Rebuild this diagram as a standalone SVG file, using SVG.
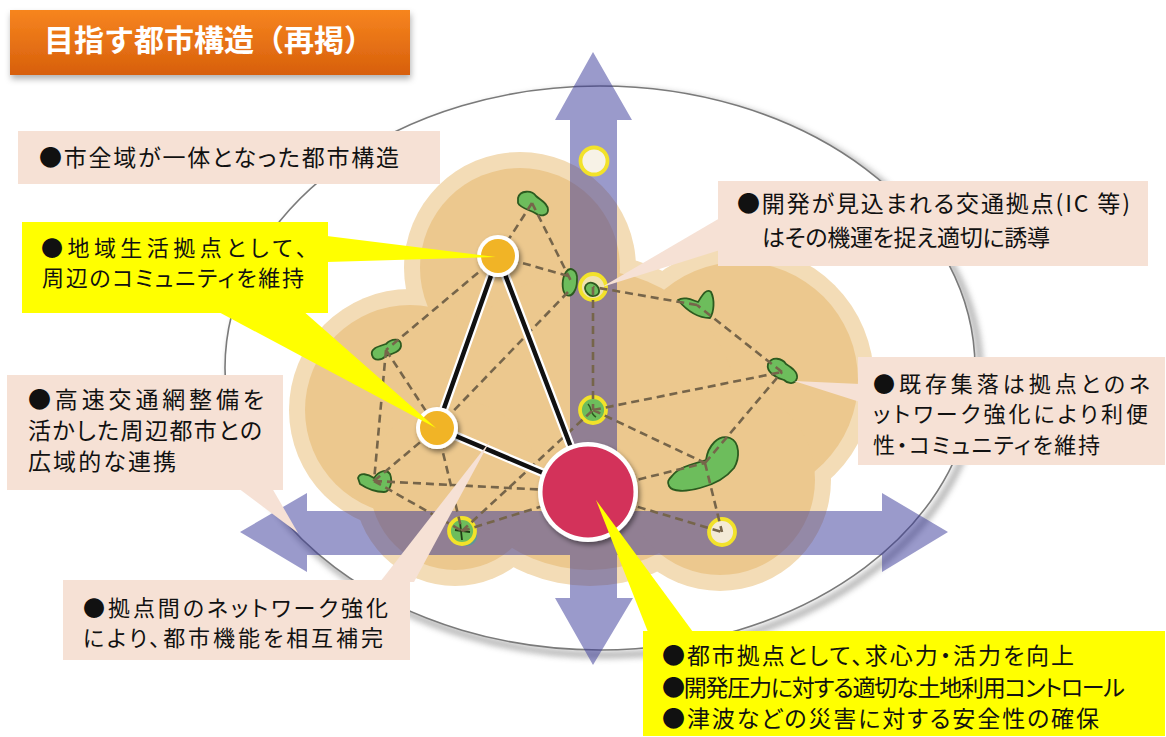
<svg xmlns="http://www.w3.org/2000/svg" width="1166" height="737" viewBox="0 0 1166 737">
  <defs>
    <linearGradient id="titleGrad" x1="0" y1="0" x2="0" y2="1">
      <stop offset="0" stop-color="#f7851f"/>
      <stop offset="1" stop-color="#d75f0b"/>
    </linearGradient>
    <filter id="nodeShadow" x="-30%" y="-30%" width="170%" height="170%">
      <feDropShadow dx="2" dy="3" stdDeviation="2.5" flood-color="#000" flood-opacity="0.45"/>
    </filter>
    <filter id="titleShadow" x="-10%" y="-20%" width="120%" height="160%">
      <feDropShadow dx="1" dy="4" stdDeviation="3" flood-color="#000" flood-opacity="0.3"/>
    </filter>
    <filter id="soft" x="-10%" y="-10%" width="120%" height="120%">
      <feGaussianBlur stdDeviation="3"/>
    </filter>
    <style>
      .lbl { font-family: "Noto Sans CJK JP", "Noto Sans CJK SC", sans-serif; font-size: 23px; fill: #111; font-feature-settings: "palt"; }
      .tight { font-size: 22px; }
      .pink { fill: #f6e1d5; }
      .yel { fill: #ffff00; }
      .dash { fill: none; stroke: #76654a; stroke-width: 2.6; stroke-dasharray: 8 5; }
      .blob { fill: #6dbd5c; stroke: #2c5a1f; stroke-width: 1.8; stroke-linejoin: round; }
      .ring { stroke: #f2e22a; stroke-width: 3.8; }
      .halo { fill: none; stroke: #fff; stroke-width: 9; stroke-linecap: round; }
      .link { fill: none; stroke: #111; stroke-width: 4.5; stroke-linecap: round; }
    </style>
  </defs>

  <rect width="1166" height="737" fill="#ffffff"/>

  <!-- city area outline -->
  <g id="city-outline">
    <ellipse cx="605" cy="373" rx="375" ry="282" fill="none" stroke="#666" stroke-width="6" opacity="0.55" filter="url(#soft)"/>
    <ellipse cx="600" cy="368" rx="375" ry="282" fill="#ffffff" stroke="#7a7a7a" stroke-width="1.6"/>
  </g>

  <!-- urbanised area (cloud) -->
  <g id="urban-area">
    <g fill="#f3dcb6">
      <circle cx="520" cy="268" r="116"/>
      <circle cx="410" cy="410" r="121"/>
      <circle cx="740" cy="380" r="134"/>
      <circle cx="590" cy="420" r="166"/>
      <circle cx="455" cy="485" r="101"/>
      <circle cx="720" cy="480" r="111"/>
    </g>
    <g fill="#ecc88e">
      <circle cx="520" cy="268" r="100"/>
      <circle cx="410" cy="410" r="105"/>
      <circle cx="740" cy="380" r="118"/>
      <circle cx="590" cy="420" r="150"/>
      <circle cx="455" cy="485" r="85"/>
      <circle cx="720" cy="480" r="95"/>
    </g>
  </g>

  <!-- transport axes -->
  <g id="axes">
    <path fill="#353597" fill-opacity="0.5" d="M240,532 L307,493 L307,511 L882,511 L882,493 L948,532 L882,572 L882,555 L307,555 L307,572 Z M593,52 L632,120 L617,120 L617,598 L633,598 L593,665 L555,598 L570,598 L570,120 L555,120 Z"/>
  </g>

  <!-- settlements -->
  <g id="settlements">
    <path class="blob" d="M518,198 C520,190 532,190 536,196 C540,200 548,203 548,210 C548,216 540,217 535,213 C530,210 520,208 518,203 Z"/>
    <path class="blob" d="M372,355 C370,348 380,346 386,344 C392,338 402,338 401,346 C400,352 392,354 386,356 C382,360 374,362 372,355 Z"/>
    <path class="blob" d="M358,478 C360,472 368,474 374,478 C378,472 386,468 390,474 C393,482 390,492 384,492 C376,492 366,488 360,484 Z"/>
    <path class="blob" d="M566,272 C570,266 578,270 577,280 C577,290 572,298 566,295 C561,290 562,278 566,272 Z"/>
    <path class="blob" d="M678,300 C684,296 692,300 698,302 C702,296 706,288 711,292 C715,300 714,312 710,318 C700,318 688,312 678,300 Z"/>
    <path class="blob" d="M768,364 C772,356 782,358 786,364 C792,368 798,372 797,378 C795,385 788,384 784,380 C776,378 766,372 768,364 Z"/>
    <path class="blob" d="M672,476 C680,466 694,464 706,460 C708,446 718,434 730,438 C740,442 740,458 734,468 C726,478 716,484 700,488 C686,492 672,492 669,486 C667,482 668,480 672,476 Z"/>
  </g>

  <!-- interchange points on the axes -->
  <g id="interchanges">
    <circle class="ring" cx="594" cy="161" r="13.5" fill="#f7f2e6"/>
    <circle class="ring" cx="593" cy="287" r="13" fill="#efe2b0"/>
    <path class="blob" d="M586,285 C590,280 598,284 599,290 C600,296 592,298 588,294 C585,291 584,288 586,285 Z"/>
    <circle class="ring" cx="593" cy="410" r="13" fill="#6dbd5c"/>
    <path fill="none" stroke="#2c5a1f" stroke-width="1.5" d="M588,404 C592,408 590,414 596,417"/>
    <circle cx="467" cy="536" r="10" fill="#4f9f9a" opacity="0.8"/>
    <circle class="ring" cx="462" cy="531" r="13" fill="#6dbd5c"/>
    <path fill="none" stroke="#1f3d14" stroke-width="1.8" d="M460,522 L462,540 M455,530 L470,532"/>
    <circle class="ring" cx="722" cy="532" r="13" fill="#f3ead6"/>
  </g>

  <!-- network connectors -->
  <g id="connectors">
    <path class="dash" d="M532,203 L498,256 M532,203 L571,281 M498,256 L568,276 M498,256 L386,350 M386,350 L437,428 M386,350 L374,481 M374,481 L437,428 M374,481 L588,492 M374,481 L462,531 M437,428 L462,531 M568,292 L437,428 M593,287 L593,410 M593,410 L782,372 M593,410 L705,463 M462,531 L593,410 M462,531 L588,492 M588,492 L705,463 M705,463 L722,532 M705,463 L782,372 M782,372 L697,305 M697,305 L593,287 M588,492 L722,532"/>
    <path class="halo" d="M498,256 L437,428 L588,492 Z M498,256 L588,492"/>
    <path class="link" d="M498,256 L437,428 L588,492 M498,256 L588,492"/>
  </g>

  <!-- hubs -->
  <g id="node-local-north" filter="url(#nodeShadow)">
    <circle cx="498" cy="256" r="21" fill="#ffffff"/>
    <circle cx="498" cy="256" r="17" fill="#f1b426"/>
  </g>
  <g id="node-local-west" filter="url(#nodeShadow)">
    <circle cx="437" cy="428" r="21" fill="#ffffff"/>
    <circle cx="437" cy="428" r="17" fill="#f1b426"/>
  </g>
  <g id="node-city-centre" filter="url(#nodeShadow)">
    <circle cx="588" cy="492" r="50" fill="#ffffff"/>
    <circle cx="588" cy="492" r="45.5" fill="#d3325a"/>
  </g>

  <!-- title -->
  <g id="title">
    <rect x="10" y="10" width="400" height="65" fill="url(#titleGrad)" filter="url(#titleShadow)"/>
    <text x="44" y="51" font-family="Noto Sans CJK JP, sans-serif" font-size="30" font-weight="bold" fill="#ffffff">目指す都市構造（再掲）</text>
  </g>

  <!-- callouts -->
  <g id="label-whole-city">
    <rect class="pink" x="18" y="131" width="422" height="53"/>
    <text class="lbl" x="39" y="166" textLength="360" lengthAdjust="spacing">●市全域が一体となった都市構造</text>
  </g>

  <g id="label-local-hubs">
    <polygon class="yel" points="327,236 327,262 496,257"/>
    <polygon class="yel" points="215,310 302,310 436,428"/>
    <rect class="yel" x="22" y="222" width="306" height="91"/>
    <text class="lbl tight" x="41" y="256" textLength="266" lengthAdjust="spacing">●地域生活拠点として、</text>
    <text class="lbl tight" x="42" y="286" textLength="262" lengthAdjust="spacing">周辺のコミュニティを維持</text>
  </g>

  <g id="label-interchange">
    <polygon class="pink" points="720,218 720,250 602,287"/>
    <rect class="pink" x="718" y="181" width="430" height="85"/>
    <text class="lbl" x="737" y="212" textLength="393" lengthAdjust="spacing">●開発が見込まれる交通拠点(IC 等)</text>
    <text class="lbl" x="762" y="246" textLength="288" lengthAdjust="spacing">はその機運を捉え適切に誘導</text>
  </g>

  <g id="label-villages">
    <polygon class="pink" points="860,384 860,402 794,381"/>
    <rect class="pink" x="858" y="357" width="307" height="108"/>
    <text class="lbl tight" x="873" y="392" textLength="277" lengthAdjust="spacing">●既存集落は拠点とのネ</text>
    <text class="lbl tight" x="873" y="422" textLength="275" lengthAdjust="spacing">ットワーク強化により利便</text>
    <text class="lbl tight" x="873" y="453" textLength="227" lengthAdjust="spacing">性・コミュニティを維持</text>
  </g>

  <g id="label-expressway">
    <polygon class="pink" points="238,488 272,488 298,533"/>
    <rect class="pink" x="7" y="375" width="276" height="115"/>
    <text class="lbl" x="28" y="408" textLength="236" lengthAdjust="spacing">●高速交通網整備を</text>
    <text class="lbl" x="28" y="439" textLength="234" lengthAdjust="spacing">活かした周辺都市との</text>
    <text class="lbl" x="28" y="470" textLength="148" lengthAdjust="spacing">広域的な連携</text>
  </g>

  <g id="label-network">
    <polygon class="pink" points="380,582 414,582 490,441"/>
    <rect class="pink" x="63" y="580" width="347" height="80"/>
    <text class="lbl tight" x="83" y="616" textLength="305" lengthAdjust="spacing">●拠点間のネットワーク強化</text>
    <text class="lbl tight" x="83" y="646" textLength="300" lengthAdjust="spacing">により、都市機能を相互補完</text>
  </g>

  <g id="label-city-centre">
    <polygon class="yel" points="596,500 648,632 693,632"/>
    <rect class="yel" x="643" y="631" width="522" height="105"/>
    <text class="lbl" x="662" y="664" textLength="412" lengthAdjust="spacing">●都市拠点として、求心力・活力を向上</text>
    <text class="lbl" x="662" y="696" textLength="463" lengthAdjust="spacing">●開発圧力に対する適切な土地利用コントロール</text>
    <text class="lbl" x="662" y="727" textLength="437" lengthAdjust="spacing">●津波などの災害に対する安全性の確保</text>
  </g>
</svg>
